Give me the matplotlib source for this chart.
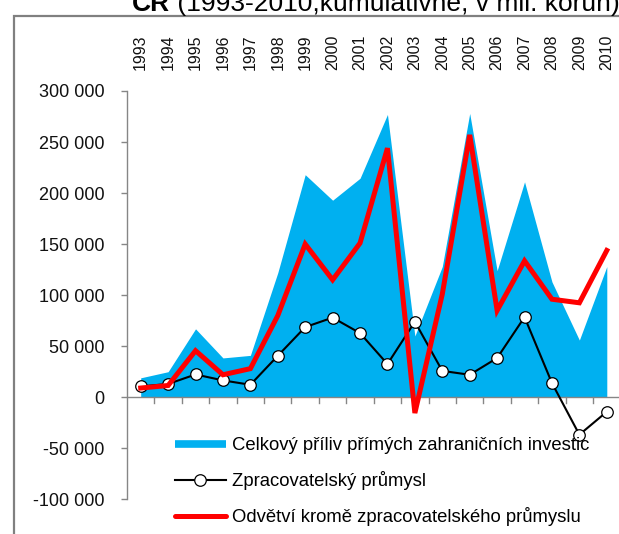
import matplotlib
matplotlib.use("Agg")
import matplotlib.pyplot as plt
from matplotlib.lines import Line2D
from matplotlib.patches import Rectangle
from matplotlib.ticker import FuncFormatter
from matplotlib.transforms import blended_transform_factory
import numpy as np

years = ["1993", "1994", "1995", "1996", "1997", "1998", "1999", "2000", "2001",
         "2002", "2003", "2004", "2005", "2006", "2007", "2008", "2009", "2010"]
total_fdi = [19000, 25000, 67000, 38500, 41000, 122000, 218000, 193000, 214500,
             277000, 60000, 128000, 278000, 124000, 211000, 113000, 56000, 128000]
manufacturing = [10600, 13000, 22300, 16500, 12200, 40600, 68700, 78000, 62800,
                 32500, 74000, 25800, 22000, 38400, 78500, 13900, -36700, -14200]
other_sectors = [9000, 11500, 45600, 22000, 28000, 80000, 150000, 115000, 151000,
                 244000, -15500, 101000, 257000, 85000, 133600, 96000, 92500, 143800]

legend_labels = ["Celkový příliv přímých zahraničních investic",
                 "Zpracovatelský průmysl",
                 "Odvětví kromě zpracovatelského průmyslu"]
title_bold = "ČR"
title_rest = " (1993-2010,kumulativně, v mil. korun)"

plt.rcParams['font.family'] = ['Liberation Sans', 'DejaVu Sans']

W, H = 619, 534
fig = plt.figure(figsize=(W / 100, H / 100), dpi=100)
fig.patch.set_facecolor('white')

ax = fig.add_axes([127 / W, (H - 499.3) / H, (620.5 - 127) / W, 408.3 / H])
ax.set_facecolor('none')

x = np.arange(len(years))
blue = '#00B0F0'
ax.fill_between(x, total_fdi, 0, color=blue, lw=0, zorder=1)
ax.plot(x, manufacturing, color='black', lw=1.5, marker='o', ms=8.3,
        mfc='white', mec='black', mew=0.9, zorder=3)
ax.plot(x, other_sectors, color='#FF0000', lw=3.6, solid_joinstyle='miter', zorder=4)

ax.set_xlim(-0.5, len(years) - 0.5)
ax.set_ylim(-100000, 300000)

gray = '#868686'
for s in ['top', 'right', 'bottom']:
    ax.spines[s].set_visible(False)
ax.spines['left'].set_color(gray)
ax.spines['left'].set_linewidth(1.0)
ax.set_yticks(np.arange(-100000, 300001, 50000))
ax.yaxis.set_major_formatter(FuncFormatter(lambda v, p: f"{int(v):,}".replace(",", " ")))
ax.tick_params(axis='y', direction='out', length=4.3, width=1.0, color=gray,
               labelsize=13, pad=12, labelcolor='#111111')
ax.set_xticks([])
# zero axis line with category boundary ticks
ax.axhline(0, color=gray, lw=1.0, zorder=2)
tick_len = 6 / 408.3 * 400000
for b in np.arange(0.5, len(years) - 0.5, 1.0):
    ax.plot([b, b], [0, -tick_len], color=gray, lw=1.0, zorder=2, clip_on=False)

# year labels at top
trans = blended_transform_factory(ax.transData, fig.transFigure)
for i, yl in enumerate(years):
    ax.text(i, (H - 70) / H, yl, rotation=90, ha='center', va='bottom',
            fontsize=11.5, color='#111111', transform=trans)

# legend
handles = [Line2D([], [], color=blue, lw=5.5, solid_capstyle='butt'),
           Line2D([], [], color='black', lw=1.5, marker='o', ms=8.3, mfc='white',
                  mec='black', mew=0.9),
           Line2D([], [], color='#FF0000', lw=3.6, solid_capstyle='round')]
leg = fig.legend(handles, legend_labels, loc='upper left',
                 bbox_to_anchor=(175 / W, (H - 437.5) / H), frameon=False,
                 fontsize=13.3, handlelength=2.75, handletextpad=0.33,
                 labelspacing=0.92, borderpad=0, borderaxespad=0, numpoints=1)

# outer frame
fig.patches.append(Rectangle((14 / W, -0.1), 2.0, (H - 16) / H + 0.1,
                             transform=fig.transFigure, fill=False,
                             edgecolor='#808080', lw=1.6))

# title (partly cut off at the top, as in the original)
r = fig.canvas.get_renderer()
t1 = fig.text(132 / W, (H - 11) / H, title_bold, fontsize=19, fontweight='bold',
              va='baseline', ha='left')
bb = t1.get_window_extent(renderer=r)
fig.text(bb.x1 / W, (H - 11) / H, title_rest, fontsize=19, va='baseline', ha='left')

fig.savefig('out.png', dpi=100)
